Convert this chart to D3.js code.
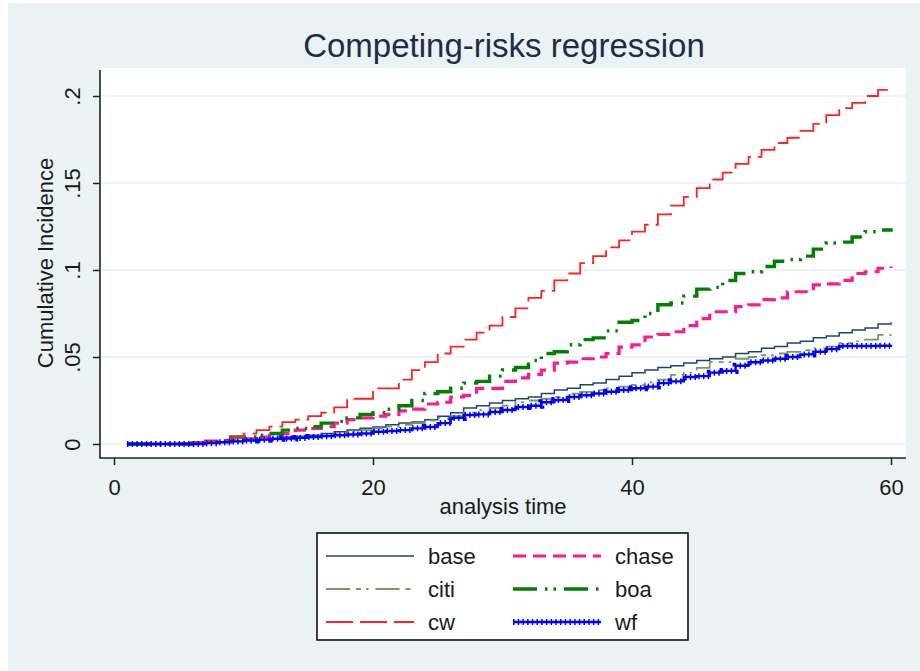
<!DOCTYPE html>
<html>
<head>
<meta charset="utf-8">
<script src="https://cdn.jsdelivr.net/npm/d3@7"></script>
<style>
  html, body { margin: 0; padding: 0; background: #ffffff; }
  svg text { font-family: "Liberation Sans", Arial, sans-serif; }
</style>
</head>
<body>
<svg id="chart" width="920" height="671"></svg>
<script>
// Analysis time (months) at which each cumulative incidence is evaluated
const times = [1,2,3,4,5,6,7,8,9,10,11,12,13,14,15,16,17,18,19,20,
  21,22,23,24,25,26,27,28,29,30,31,32,33,34,35,36,37,38,39,40,
  41,42,43,44,45,46,47,48,49,50,51,52,53,54,55,56,57,58,59,60];

// Cumulative incidence per lender
const base = [0,0,0,0,0,0, 0.0005,0.001,0.0015,0.002,0.0025,0.003,
  0.004,0.0045,0.005,0.006,0.007,0.008, 0.009,0.0098,0.011,0.012,0.0126,0.014,
  0.016,0.018,0.0207,0.022,0.0235,0.025, 0.026,0.027,0.029,0.031,0.032,0.034,
  0.035,0.037,0.039,0.041,0.0425,0.044, 0.045,0.0466,0.048,0.049,0.050,0.052,
  0.053,0.055,0.056,0.058,0.059,0.061, 0.062,0.064,0.0655,0.0667,0.069,0.070];

const citi = [0,0,0,0,0,0, 0.0005,0.001,0.0015,0.002,0.0025,0.003,
  0.0035,0.004,0.0045,0.005,0.006,0.007, 0.008,0.009,0.010,0.011,0.012,0.0135,
  0.015,0.016,0.018,0.0195,0.0207,0.022, 0.024,0.025,0.026,0.027,0.029,0.030,
  0.031,0.032,0.033,0.034,0.0355,0.037, 0.0397,0.041,0.0437,0.047,0.047,0.049,
  0.050,0.051,0.052,0.053,0.054,0.055, 0.056,0.058,0.059,0.060,0.0627,0.063];

const cw = [0,0,0,0,0.0005,0.001, 0.002,0.002,0.004,0.006,0.008,0.010,
  0.0126,0.014,0.016,0.018,0.021,0.026, 0.026,0.032,0.032,0.037,0.0425,0.047,
  0.052,0.056,0.060,0.064,0.068,0.073, 0.078,0.084,0.088,0.094,0.098,0.104,
  0.108,0.113,0.117,0.122,0.126,0.132, 0.137,0.142,0.147,0.152,0.156,0.161,
  0.165,0.169,0.173,0.176,0.180,0.184, 0.189,0.193,0.196,0.200,0.2035,0.205];

const chase = [0,0,0,0,0,0.0005, 0.001,0.0015,0.002,0.003,0.004,0.005,
  0.006,0.008,0.009,0.010,0.012,0.014, 0.015,0.016,0.017,0.019,0.020,0.023,
  0.024,0.027,0.028,0.032,0.032,0.036, 0.038,0.040,0.0425,0.0465,0.047,0.049,
  0.050,0.052,0.0557,0.057,0.0615,0.063, 0.0645,0.068,0.072,0.076,0.076,0.079,
  0.080,0.083,0.084,0.0875,0.0875,0.0914, 0.092,0.094,0.098,0.099,0.101,0.102];

const boa = [0,0,0,0,0,0.0005, 0.001,0.002,0.004,0.004,0.005,0.006,
  0.008,0.009,0.010,0.012,0.013,0.015, 0.017,0.018,0.020,0.022,0.025,0.029,
  0.030,0.032,0.035,0.036,0.039,0.0425, 0.044,0.048,0.052,0.053,0.057,0.060,
  0.061,0.065,0.070,0.071,0.075,0.080, 0.081,0.085,0.089,0.090,0.094,0.098,
  0.099,0.102,0.105,0.106,0.108,0.112, 0.1155,0.116,0.119,0.122,0.123,0.124];

const wf = [0,0,0,0,0,0, 0.0005,0.001,0.0015,0.002,0.0025,0.003,
  0.0032,0.0035,0.004,0.0045,0.005,0.0055, 0.006,0.007,0.0075,0.008,0.009,0.0098,
  0.012,0.015,0.0167,0.017,0.0184,0.0195, 0.0213,0.022,0.024,0.0253,0.027,0.028,
  0.029,0.030,0.031,0.032,0.033,0.035, 0.036,0.0385,0.039,0.041,0.042,0.045,
  0.047,0.048,0.049,0.050,0.0515,0.053, 0.0545,0.0563,0.0563,0.0563,0.0565,0.057];

// Axis ticks and labels
const xTicks = [0, 20, 40, 60];
const yTicks = [0, 0.05, 0.1, 0.15, 0.2];
const yTickLabels = ["0", ".05", ".1", ".15", ".2"];

// Series in drawing / legend order (legend fills row by row, two columns)
const seriesNames = ["base", "chase", "citi", "boa", "cw", "wf"];
const seriesValues = { base, chase, citi, boa, cw, wf };

// Line styles
const styles = {
  base:  { color: "#1a476f", width: 1.5, dash: null },
  chase: { color: "#ff1a8c", width: 3.2, dash: "13,7" },
  citi:  { color: "#7b985c", width: 1.8, dash: "24,6,5,5,2.5,7" },
  boa:   { color: "#008000", width: 3.4, dash: "24,8,2.5,6,2.5,8" },
  cw:    { color: "#ff2020", width: 1.8, dash: "27,7" },
  wf:    { color: "#0000ff", width: 2.4, dash: null, plus: true }
};

const svg = d3.select("#chart");
const W = 920, H = 671;
const plot = { left: 100, right: 906, top: 68, bottom: 458 };

// Page and graph backgrounds
svg.append("rect").attr("width", W).attr("height", H).attr("fill", "#ffffff");
svg.append("rect").attr("x", 8).attr("y", 3).attr("width", W - 8).attr("height", H - 3)
  .attr("fill", "#eaf2f3");
svg.append("rect")
  .attr("x", plot.left).attr("y", plot.top)
  .attr("width", plot.right - plot.left).attr("height", plot.bottom - plot.top)
  .attr("fill", "#ffffff");

const x = d3.scaleLinear().domain([0, 60]).range([114, 891]);
const y = d3.scaleLinear().domain([0, 0.2]).range([444, 96]);

// Horizontal grid lines
svg.append("g").selectAll("line").data(yTicks).join("line")
  .attr("x1", plot.left).attr("x2", plot.right)
  .attr("y1", d => y(d)).attr("y2", d => y(d))
  .attr("stroke", "#e8eff2").attr("stroke-width", 1.6);

// Title
svg.append("text")
  .attr("x", 504).attr("y", 57)
  .attr("text-anchor", "middle")
  .attr("font-size", 33)
  .attr("fill", "#1e2b4a")
  .text("Competing-risks regression");

// Curves
const line = d3.line()
  .x((d, i) => x(times[i]))
  .y(d => y(d))
  .curve(d3.curveStepAfter);

const plusBar = { width: 6, dash: "1.5,3.2" };

const curves = svg.append("g").attr("fill", "none");
seriesNames.forEach(name => {
  const st = styles[name];
  const p = curves.append("path")
    .attr("d", line(seriesValues[name]))
    .attr("stroke", st.color)
    .attr("stroke-width", st.width)
    .attr("stroke-linejoin", "miter");
  if (st.dash) p.attr("stroke-dasharray", st.dash);
  if (st.plus) {
    // cross bars of the "+" markers along the line
    curves.append("path")
      .attr("d", line(seriesValues[name]))
      .attr("stroke", st.color)
      .attr("stroke-width", plusBar.width)
      .attr("stroke-dasharray", plusBar.dash);
  }
});

// Axes
const axisColor = "#222222";
const yAxis = svg.append("g")
  .attr("transform", `translate(${plot.left},0)`)
  .call(d3.axisLeft(y).tickValues(yTicks).tickSize(7)
    .tickFormat((d, i) => yTickLabels[i]));
yAxis.select(".domain").remove();
yAxis.selectAll(".tick line").attr("stroke", axisColor).attr("stroke-width", 1.5);
yAxis.selectAll(".tick text")
  .attr("transform", "rotate(-90)")
  .attr("x", 0).attr("y", -20).attr("dy", 0)
  .attr("text-anchor", "middle")
  .attr("font-size", 22)
  .attr("font-family", "Liberation Sans, Arial, sans-serif")
  .attr("fill", "#1a1a1a");

const xAxis = svg.append("g")
  .attr("transform", `translate(0,${plot.bottom})`)
  .call(d3.axisBottom(x).tickValues(xTicks).tickSize(7));
xAxis.select(".domain").remove();
xAxis.selectAll(".tick line").attr("stroke", axisColor).attr("stroke-width", 1.5);
xAxis.selectAll(".tick text")
  .attr("y", 37).attr("dy", 0)
  .attr("font-size", 22)
  .attr("font-family", "Liberation Sans, Arial, sans-serif")
  .attr("fill", "#1a1a1a");

// Axis lines
svg.append("line")
  .attr("x1", plot.left).attr("x2", plot.left)
  .attr("y1", 70).attr("y2", plot.bottom)
  .attr("stroke", axisColor).attr("stroke-width", 1.6);
svg.append("line")
  .attr("x1", plot.left - 0.8).attr("x2", plot.right)
  .attr("y1", plot.bottom).attr("y2", plot.bottom)
  .attr("stroke", axisColor).attr("stroke-width", 1.6);

// Axis titles
svg.append("text")
  .attr("transform", "translate(53,263) rotate(-90)")
  .attr("text-anchor", "middle")
  .attr("font-size", 22)
  .attr("fill", "#1a1a1a")
  .text("Cumulative Incidence");
svg.append("text")
  .attr("x", 503).attr("y", 514)
  .attr("text-anchor", "middle")
  .attr("font-size", 22)
  .attr("fill", "#1a1a1a")
  .text("analysis time");

// Legend
const legend = svg.append("g");
legend.append("rect")
  .attr("x", 317).attr("y", 533).attr("width", 371).attr("height", 107)
  .attr("fill", "#ffffff").attr("stroke", "#111111").attr("stroke-width", 1.6);

const colKeyX = [326, 513];
const keyLen = 88;
const rowY = [556, 589, 622];
seriesNames.forEach((name, i) => {
  const st = styles[name];
  const cx = colKeyX[i % 2];
  const cy = rowY[Math.floor(i / 2)];
  const k = legend.append("line")
    .attr("x1", cx).attr("x2", cx + keyLen)
    .attr("y1", cy).attr("y2", cy)
    .attr("stroke", st.color).attr("stroke-width", st.width);
  if (st.dash) k.attr("stroke-dasharray", st.dash);
  if (st.plus) {
    legend.append("line")
      .attr("x1", cx).attr("x2", cx + keyLen)
      .attr("y1", cy).attr("y2", cy)
      .attr("stroke", st.color).attr("stroke-width", plusBar.width)
      .attr("stroke-dasharray", plusBar.dash);
  }
  legend.append("text")
    .attr("x", cx + keyLen + 14).attr("y", cy + 8)
    .attr("font-size", 22)
    .attr("fill", "#1a1a1a")
    .text(name);
});
</script>
</body>
</html>
